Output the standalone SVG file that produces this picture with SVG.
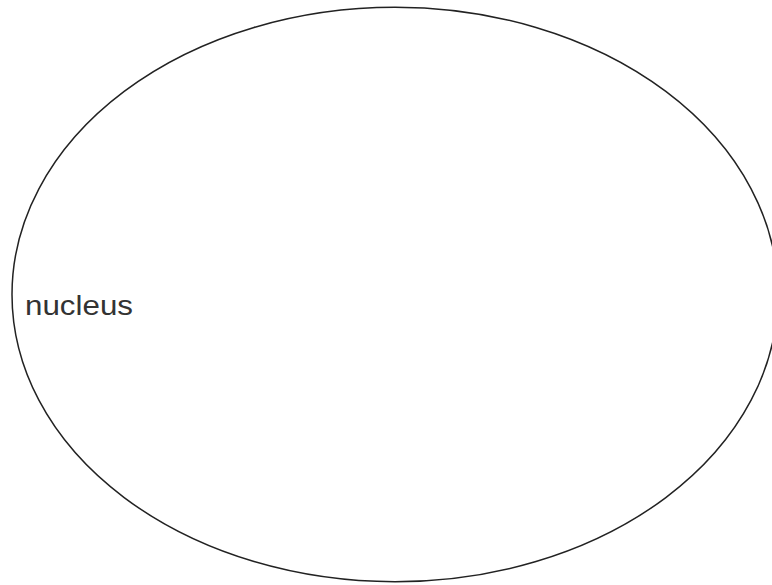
<svg xmlns="http://www.w3.org/2000/svg" width="772" height="585" viewBox="0 0 772 585">
<style>
.outline{fill:none;stroke:#222;stroke-width:1.5}
.label{font-family:"Liberation Sans",Arial,sans-serif;font-size:27px;fill:#333}
</style>
<rect width="772" height="585" fill="#fff"/>
<g id="nucleus">
<ellipse class="outline" cx="395" cy="294.5" rx="383" ry="287.2"/>
<text class="label" x="25" y="315" textLength="108" lengthAdjust="spacingAndGlyphs">nucleus</text>
</g>
</svg>
